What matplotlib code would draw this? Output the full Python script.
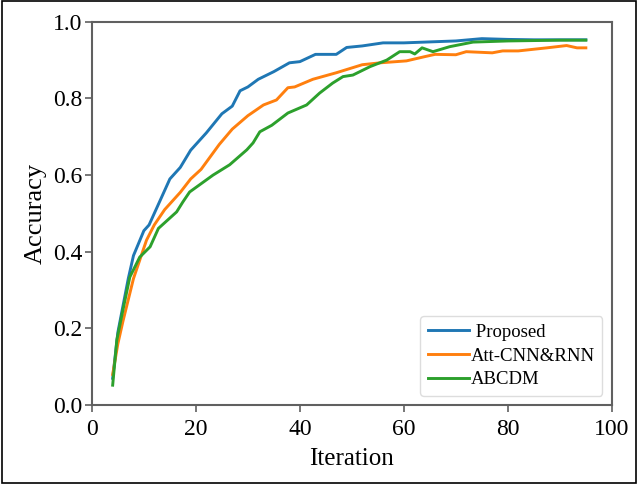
import matplotlib
matplotlib.use("Agg")
import matplotlib.pyplot as plt
from matplotlib.patches import Rectangle

plt.rcParams['font.family'] = ['Liberation Serif', 'DejaVu Serif']

# Proposed
x_prop = [4, 5, 6, 7, 8, 10, 11, 13, 15, 17, 19, 22, 25, 27, 28.5, 30, 32, 35,
          38, 40, 43, 47, 49, 52, 56, 60, 66, 70, 75, 80, 85, 90, 95]
y_prop = [0.07, 0.19, 0.26, 0.33, 0.39, 0.455, 0.47, 0.53, 0.59, 0.62, 0.665,
          0.71, 0.76, 0.78, 0.82, 0.83, 0.85, 0.87, 0.893, 0.896, 0.915, 0.915,
          0.933, 0.937, 0.945, 0.945, 0.948, 0.95, 0.956, 0.954, 0.953, 0.953, 0.953]

# Att-CNN&RNN
x_att = [4, 5, 6, 8, 10.5, 12, 14, 17, 19, 21, 24.5, 27, 30, 33, 35.5, 37.7, 39,
         42.5, 47, 52, 55.5, 60.5, 64, 66, 70, 72, 77, 79, 82, 87.5, 91.3, 93.3, 95]
y_att = [0.08, 0.16, 0.22, 0.33, 0.43, 0.47, 0.51, 0.555, 0.59, 0.615, 0.68, 0.72,
         0.755, 0.783, 0.796, 0.828, 0.83, 0.85, 0.867, 0.888, 0.893, 0.898, 0.909,
         0.915, 0.914, 0.922, 0.919, 0.924, 0.924, 0.932, 0.938, 0.932, 0.932]

# ABCDM
x_abc = [4, 4.8, 6, 7.3, 9.2, 11.2, 12.8, 16.3, 17.5, 18.8, 23.3, 26.5, 29.8, 31,
         32.3, 34.6, 37.7, 41.3, 43.8, 46.3, 48.3, 50.2, 53.5, 56.7, 59.2, 61.2,
         62.1, 63.5, 65.6, 68.8, 73.3, 80, 90, 95]
y_abc = [0.052, 0.17, 0.25, 0.334, 0.386, 0.413, 0.461, 0.504, 0.53, 0.556, 0.60,
         0.627, 0.666, 0.684, 0.713, 0.73, 0.762, 0.783, 0.814, 0.84, 0.857, 0.861,
         0.883, 0.90, 0.922, 0.922, 0.916, 0.932, 0.922, 0.935, 0.947, 0.95, 0.952, 0.952]

fig = plt.figure(figsize=(6.38, 4.84), dpi=100)
ax = fig.add_axes([0.144, 0.163, 0.815, 0.792])

ax.plot(x_prop, y_prop, color='#1f77b4', lw=2.1, label=' Proposed')
ax.plot(x_att, y_att, color='#ff7f0e', lw=2.1, label='Att-CNN&RNN')
ax.plot(x_abc, y_abc, color='#2ca02c', lw=2.1, label='ABCDM')

ax.set_xlim(0, 100)
ax.set_ylim(0, 1.0)
ax.set_xticks([0, 20, 40, 60, 80, 100])
ax.set_yticks([0.0, 0.2, 0.4, 0.6, 0.8, 1.0])
ax.set_xlabel('Iteration', fontsize=18, labelpad=6)
ax.set_ylabel('Accuracy', fontsize=19, labelpad=4)

for s in ax.spines.values():
    s.set_color('#606060')
    s.set_linewidth(1.5)
ax.tick_params(colors='#606060', labelcolor='black', labelsize=17, width=1.2,
               length=5, pad=2)
ax.tick_params(axis='x', pad=5)

ax.legend(loc='lower right', fontsize=13.5, handlelength=2.2, handletextpad=0.1,
          labelspacing=0.35, framealpha=1, edgecolor='#dddddd', borderaxespad=0.5)

fig.patches.append(Rectangle((0.003, 0.003), 0.994, 0.994, transform=fig.transFigure,
                             fill=False, edgecolor='black', lw=1.2))

fig.savefig('out.png', dpi=100)
